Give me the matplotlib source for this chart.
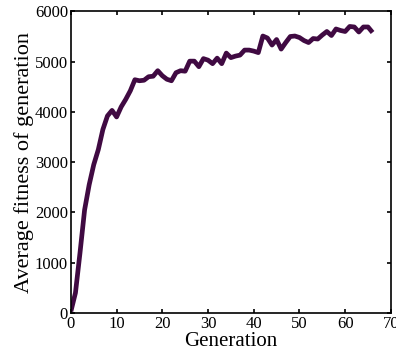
import matplotlib
matplotlib.use('Agg')
from matplotlib import pyplot as plt

# data
generation = list(range(0, 67))
avg_fitness = [30, 400, 1200, 2050, 2550, 2950, 3250, 3650, 3920, 4030,
               3900, 4100, 4250, 4420, 4640, 4620, 4630, 4700, 4710, 4820,
               4720, 4650, 4620, 4780, 4820, 4810, 5010, 5010, 4900, 5060,
               5030, 4960, 5070, 4960, 5170, 5080, 5110, 5130, 5230, 5230,
               5210, 5180, 5510, 5470, 5330, 5440, 5250, 5380, 5500, 5510,
               5480, 5420, 5380, 5460, 5450, 5530, 5600, 5520, 5650, 5620,
               5600, 5700, 5690, 5590, 5690, 5690, 5580]
x_ticks = [0, 10, 20, 30, 40, 50, 60, 70]
y_ticks = [0, 1000, 2000, 3000, 4000, 5000, 6000]

plt.rcParams['font.family'] = ['Liberation Serif', 'DejaVu Serif']

fig = plt.figure(figsize=(3.96, 3.56), dpi=100)
ax = fig.add_axes([0.179, 0.121, 0.808, 0.847])

ax.plot(generation, avg_fitness, color='#400a42', lw=3.4, solid_capstyle='butt')

ax.set_xlim(0, 70)
ax.set_ylim(0, 6000)
ax.set_xticks(x_ticks)
ax.set_yticks(y_ticks)
ax.tick_params(direction='in', top=True, right=True, length=3, width=1.2,
               labelsize=12, pad=2)
for s in ax.spines.values():
    s.set_linewidth(1.2)

ax.set_xlabel('Generation', fontsize=15, labelpad=0)
ax.set_ylabel('Average fitness of generation', fontsize=16, labelpad=1)

fig.savefig('out.png', dpi=100)
